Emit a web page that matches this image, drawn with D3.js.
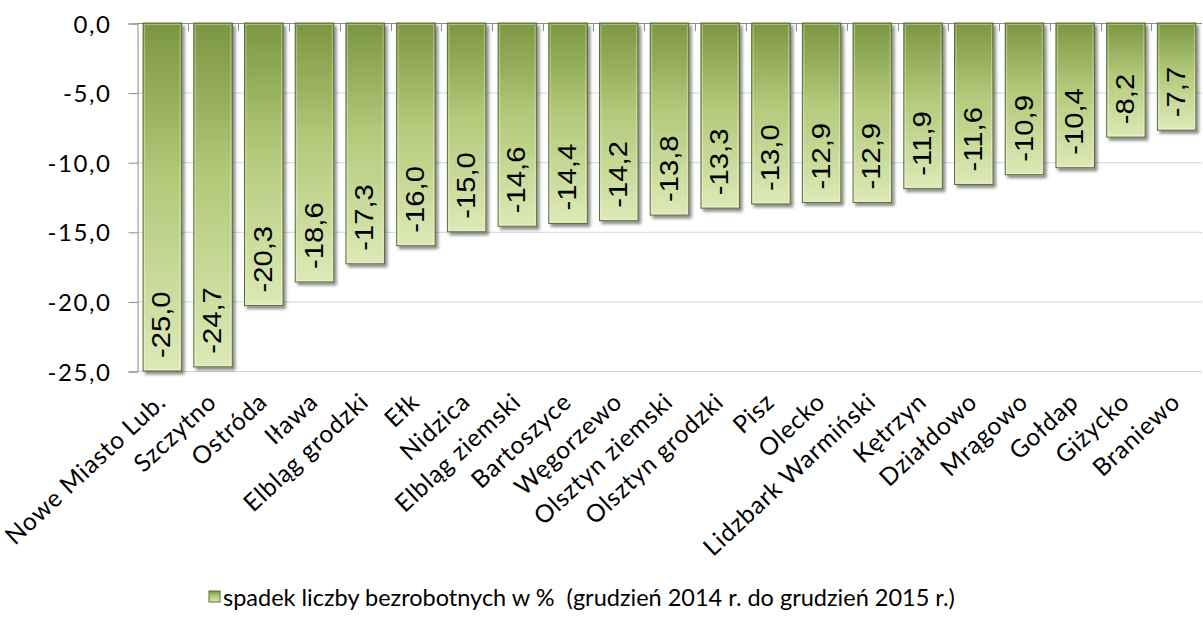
<!DOCTYPE html>
<html>
<head>
<meta charset="utf-8">
<script src="https://cdn.jsdelivr.net/npm/d3@7"></script>
<style>
  body { margin: 0; background: #fff; }
  svg { display: block; }
</style>
</head>
<body>
<div id="chart"></div>
<script>
// powiaty / miasta
const categories = [
  "Nowe Miasto Lub.", "Szczytno", "Ostróda", "Iława", "Elbląg grodzki", "Ełk",
  "Nidzica", "Elbląg ziemski", "Bartoszyce", "Węgorzewo", "Olsztyn ziemski",
  "Olsztyn grodzki", "Pisz", "Olecko", "Lidzbark Warmiński", "Kętrzyn",
  "Działdowo", "Mrągowo", "Gołdap", "Giżycko", "Braniewo"
];
const values = [
  -25.0, -24.7, -20.3, -18.6, -17.3, -16.0, -15.0, -14.6, -14.4, -14.2, -13.8,
  -13.3, -13.0, -12.9, -12.9, -11.9, -11.6, -10.9, -10.4, -8.2, -7.7
];
const yTicks = [0, -5, -10, -15, -20, -25];
const legendLabel = "spadek liczby bezrobotnych w %  (grudzień 2014 r. do grudzień 2015 r.)";

const width = 1203, height = 629;
const plotLeft = 137, plotRight = 1202, plotTop = 23, plotBottom = 371;
const fmt = v => v.toFixed(1).replace(".", ",");
const labelFont = "Lato, 'Open Sans', sans-serif";

const svg = d3.select("#chart").append("svg")
  .attr("width", width)
  .attr("height", height);

const defs = svg.append("defs");
const grad = defs.append("linearGradient")
  .attr("id", "barGrad")
  .attr("x1", 0).attr("y1", 0).attr("x2", 0).attr("y2", 1);
grad.append("stop").attr("offset", "0%").attr("stop-color", "#7b9642");
grad.append("stop").attr("offset", "45%").attr("stop-color", "#b2c979");
grad.append("stop").attr("offset", "100%").attr("stop-color", "#dde9b7");

const shadow = defs.append("filter").attr("id", "shadow")
  .attr("x", "-20%").attr("y", "-5%").attr("width", "150%").attr("height", "115%");
shadow.append("feDropShadow")
  .attr("dx", 2.5).attr("dy", 3).attr("stdDeviation", 1.8)
  .attr("flood-color", "#000").attr("flood-opacity", 0.45);

const x = d3.scaleBand()
  .domain(categories)
  .range([plotLeft, plotRight])
  .paddingInner(0.24)
  .paddingOuter(0.12);

const y = d3.scaleLinear()
  .domain([-25, 0])
  .range([plotBottom, plotTop]);

// gridlines
svg.append("g")
  .selectAll("line")
  .data(yTicks.filter(d => d !== 0))
  .join("line")
  .attr("x1", plotLeft).attr("x2", plotRight)
  .attr("y1", d => y(d) + 0.5).attr("y2", d => y(d) + 0.5)
  .attr("stroke", "#c9d8ec")
  .attr("stroke-width", 1);

// y axis
const yAxis = svg.append("g")
  .attr("transform", `translate(${plotLeft + 0.5},0.5)`)
  .call(d3.axisLeft(y).tickValues(yTicks).tickSize(9).tickFormat(fmt));
yAxis.select(".domain").attr("stroke", "#8c8c8c");
yAxis.selectAll(".tick line").attr("stroke", "#8c8c8c");
yAxis.selectAll(".tick text")
  .attr("x", -26)
  .attr("dy", "0.36em")
  .style("font-family", labelFont)
  .style("font-size", "24px")
  .style("letter-spacing", "1.6px")
  .attr("fill", "#000");

// top axis (value 0) with category boundary ticks
const step = x.step();
svg.append("line")
  .attr("x1", plotLeft).attr("x2", plotRight)
  .attr("y1", y(0) + 0.5).attr("y2", y(0) + 0.5)
  .attr("stroke", "#8c8c8c");
svg.append("g")
  .selectAll("line")
  .data(categories.slice(1))
  .join("line")
  .attr("x1", d => Math.round(x(d) - step * 0.12) + 0.5)
  .attr("x2", d => Math.round(x(d) - step * 0.12) + 0.5)
  .attr("y1", y(0)).attr("y2", y(0) + 8)
  .attr("stroke", "#8c8c8c");

// bars
const bars = svg.append("g")
  .selectAll("g")
  .data(values)
  .join("g");

bars.append("rect")
  .attr("x", (d, i) => x(categories[i]))
  .attr("y", y(0))
  .attr("width", x.bandwidth())
  .attr("height", d => y(d) - y(0))
  .attr("fill", "url(#barGrad)")
  .attr("stroke", "#5b6d35")
  .attr("stroke-width", 1)
  .attr("filter", "url(#shadow)");

// bevel highlight
bars.append("rect")
  .attr("x", (d, i) => x(categories[i]) + 1.5)
  .attr("y", y(0) + 1.5)
  .attr("width", x.bandwidth() - 3)
  .attr("height", d => y(d) - y(0) - 3)
  .attr("fill", "none")
  .attr("stroke", "#ffffff")
  .attr("stroke-opacity", 0.35)
  .attr("stroke-width", 1);

// value labels
bars.append("text")
  .attr("transform", (d, i) =>
    `translate(${x(categories[i]) + x.bandwidth() / 2 + 8},${y(d) - 13}) rotate(-90) scale(1.17,1)`)
  .attr("text-anchor", "start")
  .style("font-family", "'Liberation Sans', Arial, sans-serif")
  .style("font-size", "25px")
  .attr("fill", "#000")
  .text(d => fmt(d));

// category labels
svg.append("g")
  .selectAll("text")
  .data(categories)
  .join("text")
  .attr("transform", d => `translate(${x(d) + x.bandwidth() / 2 + 5},404) rotate(-43)`)
  .attr("text-anchor", "end")
  .style("font-family", labelFont)
  .style("font-size", "24.5px")
  .style("letter-spacing", "0.8px")
  .attr("fill", "#000")
  .text(d => d);

// legend
const legend = svg.append("g").attr("transform", "translate(209,591)");
legend.append("rect")
  .attr("width", 11).attr("height", 11)
  .attr("fill", "url(#barGrad)")
  .attr("stroke", "#5b6d35");
legend.append("text")
  .attr("x", 14).attr("y", 15)
  .style("font-family", labelFont)
  .style("font-size", "23.5px")
  .style("white-space", "pre")
  .attr("fill", "#000")
  .text(legendLabel);
</script>
</body>
</html>
